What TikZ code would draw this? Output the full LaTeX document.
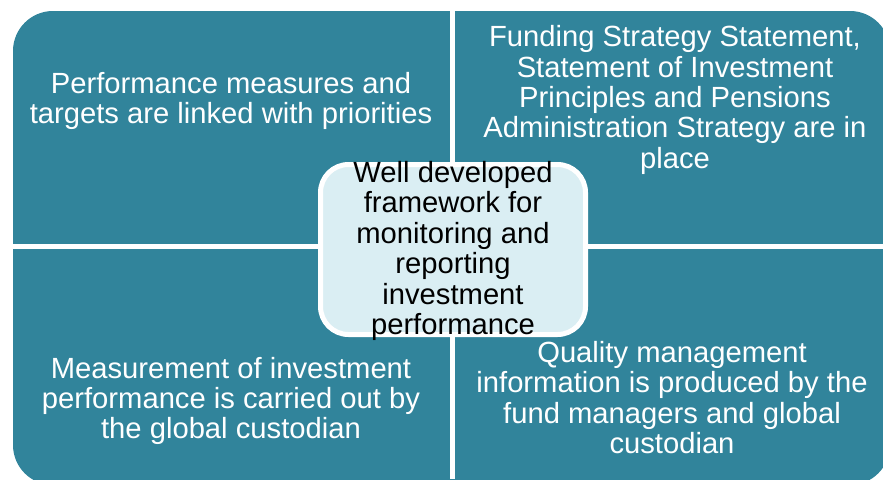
\documentclass[tikz,border=0pt]{standalone}
\usepackage{fontspec}
\setmainfont{Liberation Sans}
\definecolor{quadfill}{HTML}{31849B}
\definecolor{corefill}{HTML}{DAEEF3}
\begin{document}
\begin{tikzpicture}[x=1pt,y=-1pt,
  quadtext/.style={text=white,font=\fontsize{29.2}{30.3}\selectfont,align=center,inner sep=0pt},
  coretext/.style={text=black,font=\fontsize{29.2}{30.5}\selectfont,align=center,inner sep=0pt},
  gap/.style={fill=white}]
\useasboundingbox (0,0) rectangle (883,479);
\fill[quadfill, rounded corners=40pt] (13,11) rectangle (890,485);
\fill[gap] (450,0) rectangle (455,479);
\fill[gap] (0,244) rectangle (883,248.5);
\draw[white, line width=5pt, fill=corefill, rounded corners=28pt] (320.5,164.5) rectangle (585.5,334.5);
\node[quadtext] (tl) at (231,101) {Performance measures and\\targets are linked with priorities};
\node[quadtext] (tr) at (675,100) {Funding Strategy Statement,\\Statement of Investment\\Principles and Pensions\\Administration Strategy are in\\place};
\node[quadtext] (bl) at (231,401) {Measurement of investment\\performance is carried out by\\the global custodian};
\node[quadtext] (br) at (672,397.5) {Quality management\\information is produced by the\\fund managers and global\\custodian};
\node[coretext] (core) at (453,251) {Well developed\\framework for\\monitoring and\\reporting\\investment\\performance};
\end{tikzpicture}
\end{document}
